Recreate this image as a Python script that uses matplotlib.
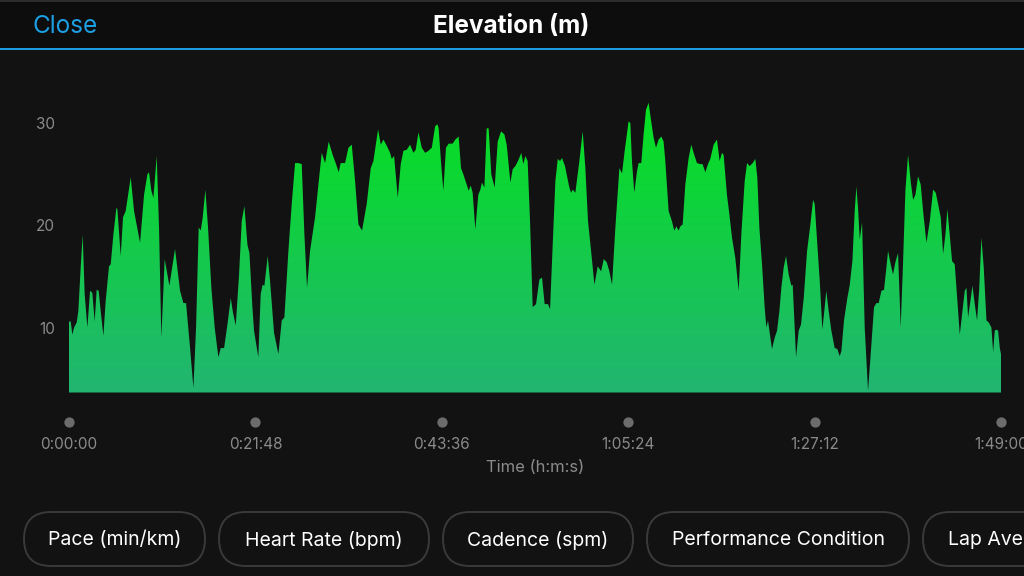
import numpy as np
import matplotlib
matplotlib.use("Agg")
import matplotlib.pyplot as plt
from matplotlib.patches import FancyBboxPatch, Rectangle, Polygon
from matplotlib.transforms import blended_transform_factory

plt.rcParams['font.family'] = ['Inter', 'DejaVu Sans']

# ---------------- data ----------------
title = "Elevation (m)"
close_label = "Close"
x_label = "Time (h:m:s)"
button_labels = ["Pace (min/km)", "Heart Rate (bpm)", "Cadence (spm)",
                 "Performance Condition", "Lap Averages"]

y_ticks = [10, 20, 30]
x_tick_seconds = [0, 1308, 2616, 3924, 5232, 6540]

# time (minutes) / elevation (m)
time_min = [
    0, 0.2, 0.39, 0.59, 0.9, 1.09, 1.37, 1.6, 1.83, 2.15, 2.46, 2.73, 3.0, 3.24, 3.47,
    3.71, 4.02, 4.29, 4.68, 4.88, 5.19, 5.54, 5.66, 6.05, 6.32, 6.63, 7.22, 7.61, 8.31, 8.78,
    9.17, 9.36, 9.63, 9.87, 10.26, 10.53, 10.8, 11.19, 11.74, 12.4, 12.99, 13.38, 13.69, 14.16, 14.55,
    14.86, 15.17, 15.41, 15.64, 15.95, 16.26, 16.65, 17.04, 17.47, 17.75, 18.14, 18.53, 18.92, 19.15, 19.5,
    19.89, 20.2, 20.51, 20.87, 21.1, 21.45,
    21.64, 22.14, 22.42, 22.65, 22.85, 23.24, 23.51, 23.98, 24.49, 24.88, 25.19, 25.66, 26.05, 26.44, 26.83,
    27.22, 27.53, 27.84, 28.19, 28.78, 29.17, 29.56, 29.95, 30.37, 30.84, 31.23, 31.54, 31.78, 32.29, 32.68,
    33.07, 33.46, 33.85, 34.27, 34.82, 35.29, 35.6, 36.15, 36.46, 36.77, 37.16, 37.55, 37.75, 38.02, 38.45,
    38.8, 39.11, 39.5, 39.89, 40.28, 40.55, 40.87, 41.26, 41.65, 42.04, 42.43, 42.82, 43.09,
    43.23, 43.5, 43.78, 44.09, 44.4, 44.87, 45.18, 45.57, 45.85, 46.12, 46.51, 46.74, 46.98, 47.21, 47.52,
    47.87, 48.11, 48.3, 48.58, 48.85, 49.08, 49.39, 49.78, 50.14, 50.53, 50.92, 51.19, 51.62, 51.89, 52.2,
    52.51, 52.9, 53.14, 53.37, 53.64, 53.92, 54.23, 54.62, 55.01, 55.32, 55.63, 56.02, 56.26, 56.57, 56.88,
    57.16, 57.43, 57.66, 58.01, 58.52, 58.72, 58.91, 59.22, 59.69, 60.08, 60.39, 60.7, 61.06, 61.45, 61.84,
    62.23, 62.54, 62.89, 63.2, 63.51, 63.9, 64.37, 64.68, 64.99,
    65.45, 65.65, 65.84, 66.11, 66.43, 66.62, 66.93, 67.2, 67.48, 67.79, 67.98, 68.37, 68.65, 68.96, 69.27,
    69.54, 69.74, 70.13, 70.52, 70.79, 71.03, 71.3, 71.49, 71.77, 72.08, 72.47, 72.78, 73.05, 73.44, 73.83,
    74.1, 74.42, 74.73, 75.0, 75.39, 75.78, 76.09, 76.37, 76.56, 76.95, 77.23, 77.54, 77.93, 78.32, 78.63,
    79.02, 79.3, 79.61, 79.96, 80.27, 80.5, 80.74, 81.05, 81.36, 81.56, 81.75, 82.03, 82.22, 82.53, 82.81,
    83.08, 83.31, 83.59, 83.86, 84.17, 84.48, 84.64, 84.87, 85.03, 85.34, 85.61, 85.93, 86.32, 86.71,
    87.02, 87.21, 87.52, 87.8, 88.11, 88.38, 88.57, 88.85, 89.16, 89.55, 89.86, 90.14, 90.33, 90.64, 91.03,
    91.3, 91.62, 91.89, 92.09, 92.28, 92.48, 92.75, 93.06, 93.45, 93.76, 94.15, 94.43, 94.7, 95.01, 95.32,
    95.6, 95.79, 96.1, 96.37, 96.65, 96.96, 97.27, 97.55, 97.82, 98.13, 98.44, 98.72, 98.99, 99.3, 99.61,
    99.89, 100.28, 100.67, 101.06, 101.37, 101.64, 101.95, 102.23, 102.5, 102.73, 103.0, 103.28, 103.59, 103.9, 104.18,
    104.45, 104.76, 104.96, 105.15, 105.42, 105.66, 105.93, 106.2, 106.44, 106.71, 106.98, 107.3, 107.57, 107.88, 108.08,
    108.27, 108.47, 108.66, 108.86, 109.0,
]
elevation_m = [
    10.6, 10.6, 9.3, 10.0, 10.5, 11.6, 15.9, 19.1, 13.3, 10.0, 13.6, 13.4, 10.6, 13.7, 13.6,
    11.6, 9.2, 12.6, 16.0, 16.2, 19.1, 21.7, 21.6, 17.0, 20.8, 21.4, 24.7, 21.4, 18.3, 23.0,
    25.0, 25.2, 23.4, 22.7, 26.8, 19.8, 9.0, 16.7, 14.1, 17.7, 13.6, 12.4, 12.4, 8.0, 4.1,
    10.0, 19.8, 19.5, 20.8, 23.5, 19.8, 13.9, 10.0, 7.1, 8.0, 8.0, 10.3, 12.9, 11.6, 10.2,
    15.2, 20.4, 21.9, 18.1, 17.3, 12.0,
    9.7, 7.1, 13.3, 14.2, 14.1, 17.0, 14.6, 9.5, 7.4, 10.7, 11.0, 17.5, 22.1, 26.1, 26.1,
    26.0, 19.1, 13.9, 17.5, 20.8, 24.0, 27.1, 26.1, 28.2, 26.9, 26.0, 25.2, 26.1, 26.1, 27.6,
    27.9, 24.3, 20.1, 19.5, 22.1, 25.6, 26.3, 29.4, 27.9, 28.4, 27.8, 27.1, 26.5, 26.8, 22.7,
    26.0, 27.3, 27.4, 27.9, 27.1, 27.4, 29.1, 27.6, 27.1, 27.3, 27.6, 29.7, 29.9,
    29.5, 26.3, 23.4, 27.6, 28.0, 28.0, 28.4, 28.7, 25.6, 25.0, 24.0, 23.4, 23.9, 23.2, 19.6,
    23.0, 23.5, 24.2, 23.7, 29.5, 29.5, 25.0, 23.7, 28.2, 29.2, 28.9, 27.9, 24.2, 25.5, 25.8,
    26.3, 27.1, 26.0, 26.8, 26.3, 20.4, 12.0, 12.3, 14.7, 14.9, 12.3, 12.3, 11.8, 18.1, 24.3,
    26.5, 26.3, 26.6, 25.8, 23.7, 23.2, 23.5, 23.2, 26.3, 29.2, 25.6, 20.4, 17.5, 14.2, 16.0,
    15.5, 16.7, 16.4, 15.5, 14.2, 19.8, 25.6, 25.1, 27.3,
    30.2, 30.0, 26.3, 23.2, 25.3, 26.1, 26.1, 28.9, 31.3, 32.0, 30.8, 28.6, 27.6, 28.4, 28.7,
    28.2, 26.3, 21.4, 20.4, 19.5, 19.9, 19.5, 19.9, 20.1, 24.0, 26.6, 27.9, 27.1, 26.1, 26.0,
    26.0, 25.2, 26.0, 26.5, 27.9, 28.4, 26.3, 27.1, 26.9, 23.0, 21.1, 18.8, 16.8, 13.6, 19.1,
    24.3, 26.1, 25.8, 26.1, 26.5, 24.7, 19.8, 16.2, 12.0, 10.0, 10.7, 9.0, 7.9, 9.0, 9.7,
    11.6, 13.9, 15.9, 17.0, 15.2, 14.1, 14.2, 10.0, 7.1, 9.7, 10.3, 12.9, 17.5, 20.1,
    22.5, 22.1, 18.1, 14.6, 9.8, 12.0, 13.6, 11.6, 9.7, 8.0, 7.9, 7.2, 7.7, 10.7, 12.9,
    14.1, 16.5, 21.4, 23.8, 21.7, 18.6, 20.3, 10.0, 3.8, 7.4, 12.0, 12.4, 12.4, 13.6, 13.7,
    15.9, 17.5, 16.2, 15.2, 16.4, 17.3, 10.0, 16.5, 23.4, 26.9, 24.3, 22.5, 23.0, 24.8, 24.0,
    21.4, 18.3, 20.4, 23.5, 23.2, 22.1, 20.8, 17.2, 19.1, 21.6, 19.1, 16.5, 16.2, 12.6, 9.3,
    11.3, 13.6, 13.9, 11.0, 12.6, 14.1, 12.3, 10.7, 13.6, 18.8, 15.9, 10.7, 10.5, 10.0, 7.6,
    9.7, 9.8, 9.7, 8.0, 7.4,
]

# ---------------- figure ----------------
W, H = 1024, 576
BG = '#121212'
fig = plt.figure(figsize=(W / 100, H / 100), dpi=100, facecolor=BG)

# full-figure pixel overlay for UI chrome
ui = fig.add_axes([0, 0, 1, 1], zorder=0)
ui.set_xlim(0, W)
ui.set_ylim(H, 0)
ui.axis('off')

ui.add_patch(Rectangle((0, 0), W, 48, facecolor='#0d0d0d', edgecolor='none'))
ui.add_patch(Rectangle((0, 0), W, 2, facecolor='#2c2c2c', edgecolor='none'))
ui.add_patch(Rectangle((0, 48), W, 2, facecolor='#1c9be0', edgecolor='none'))
ui.text(32, 26.5, close_label, color='#1c9fe3', fontsize=17.5, ha='left', va='center')
ui.text(511, 26.5, title, color='white', fontsize=17.5, fontweight='bold', ha='center', va='center')

button_spans = [(24, 205), (219, 429), (443, 633), (647, 909), (923, 1110)]
for lab, (x0, x1) in zip(button_labels, button_spans):
    ui.add_patch(FancyBboxPatch((x0, 512), x1 - x0, 54,
                                boxstyle='round,pad=0,rounding_size=27',
                                facecolor='none', edgecolor='#3a3a3a', linewidth=1.4))
    if x1 > W:
        ui.text(x0 + 25, 540, lab, color='white', fontsize=14, ha='left', va='center')
    else:
        ui.text((x0 + x1) / 2, 540, lab, color='white', fontsize=14, ha='center', va='center')

# ---------------- chart ----------------
left, right, bottom, top = 69, 1001, 392.5, 90
ax = fig.add_axes([left / W, 1 - bottom / H, (right - left) / W, (bottom - top) / H], zorder=1)
ax.set_facecolor('none')
ymin, ymax = 3.65, 33.25
xmax = x_tick_seconds[-1] / 60

t = np.asarray(time_min)
e = np.asarray(elevation_m)
verts = [(t[0], ymin)] + list(zip(t, e)) + [(t[-1], ymin)]
poly = Polygon(verts, closed=True, facecolor='none', edgecolor='none')
ax.add_patch(poly)

top_c = np.array([4, 226, 30]) / 255
bot_c = np.array([34, 181, 114]) / 255
f = np.linspace(0, 1, 256)[:, None]
grad = top_c[None, None, :] * (1 - f[:, :, None]) + bot_c[None, None, :] * f[:, :, None]
grad = np.repeat(grad, 2, axis=1)
im = ax.imshow(grad, extent=[0, xmax, ymin, 32.5], origin='upper', aspect='auto',
               interpolation='bilinear')
im.set_clip_path(poly)
ax.set_xlim(0, xmax)
ax.set_ylim(ymin, ymax)

for s in ax.spines.values():
    s.set_visible(False)

ax.set_yticks(y_ticks)
ax.set_yticklabels([str(v) for v in y_ticks])
ax.tick_params(axis='y', length=0, pad=10, labelcolor='#8a8a8a', labelsize=11)


def hms(sec):
    h = sec // 3600
    m = (sec % 3600) // 60
    s = sec % 60
    return f"{h}:{m:02d}:{s:02d}"


x_ticks = [s / 60 for s in x_tick_seconds]
ax.set_xticks(x_ticks)
ax.set_xticklabels([hms(s) for s in x_tick_seconds])
ax.tick_params(axis='x', length=0, pad=32, labelcolor='#8a8a8a', labelsize=11)

trans = blended_transform_factory(ax.transData, ax.transAxes)
dot_y = -(422 - bottom) / (bottom - top)
ax.scatter(x_ticks, [dot_y] * len(x_ticks), s=55, color='#6c6c6c', transform=trans,
           clip_on=False, zorder=3, linewidths=0)

ax.set_xlabel(x_label, color='#8a8a8a', fontsize=12, labelpad=6)

fig.savefig('out.png', dpi=100, facecolor=BG)
